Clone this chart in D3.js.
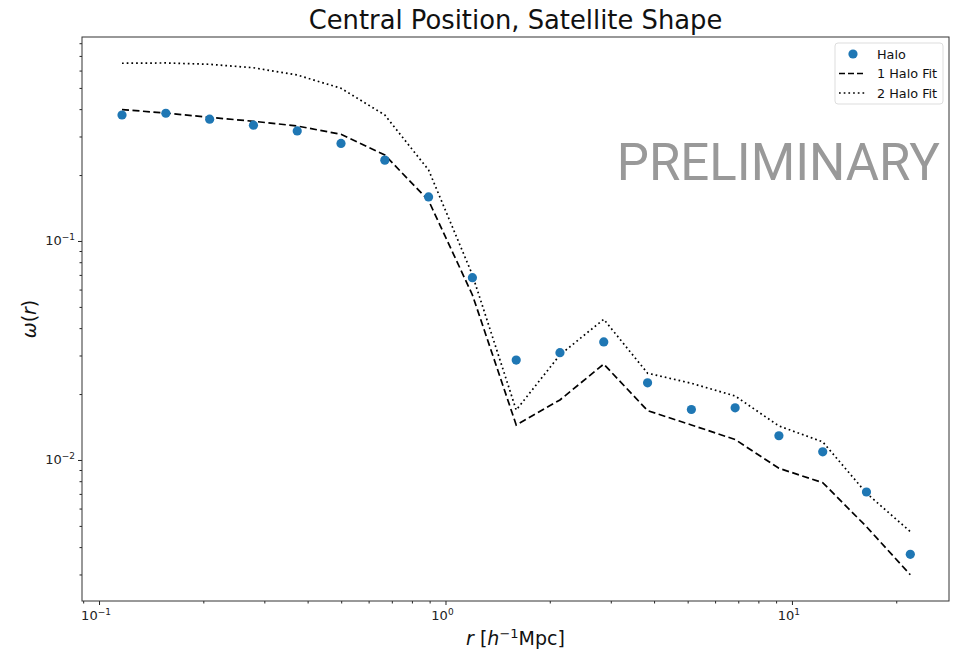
<!DOCTYPE html>
<html>
<head>
<meta charset="utf-8">
<script src="https://cdn.jsdelivr.net/npm/d3@7"></script>
<style>
  body { margin: 0; background: #fff; }
  svg { display: block; font-family: 'DejaVu Sans', sans-serif; }
</style>
</head>
<body>
<script>
/* global d3 */
// bin centres, r [h^-1 Mpc]
var radii = [0.1165, 0.1559, 0.2086, 0.2791, 0.3733, 0.4994, 0.6682, 0.8937, 1.196, 1.600,
  2.140, 2.863, 3.831, 5.125, 6.855, 9.170, 12.27, 16.41, 21.96]
var halo = [0.376, 0.383, 0.360, 0.338, 0.318, 0.279, 0.234, 0.159, 0.0680, 0.0286,
  0.0309, 0.0346, 0.0225, 0.0170, 0.0173, 0.0129, 0.0109, 0.00714, 0.00371]
var oneHaloFit = [0.398, 0.384, 0.367, 0.352, 0.335, 0.307, 0.247, 0.153, 0.0567, 0.01445,
  0.0188, 0.0274, 0.0168, 0.01445, 0.0124, 0.00916, 0.00788, 0.00496, 0.00299]
var twoHaloFit = [0.648, 0.650, 0.641, 0.618, 0.573, 0.498, 0.376, 0.211, 0.070, 0.0169,
  0.0302, 0.0439, 0.0249, 0.0224, 0.0196, 0.0143, 0.0121, 0.00705, 0.00471]
var xMajor = [0.1, 1, 10]
var xMajorExp = ['\u22121', '0', '1']
var yMajor = [0.1, 0.01]
var yMajorExp = ['\u22121', '\u22122']

var width = 953
var height = 652
var plotLeft = 82
var plotRight = 949
var plotTop = 37
var plotBottom = 601

var svg = d3.select('body').append('svg')
  .attr('width', width)
  .attr('height', height)

var x = d3.scaleLog().domain([0.0893, 28.4]).range([plotLeft, plotRight])
var y = d3.scaleLog().domain([0.854, 0.00227]).range([plotTop, plotBottom])

function minors (lo, hi) {
  var out = []
  for (var e = -4; e <= 3; e++) {
    for (var m = 2; m <= 9; m++) {
      var v = m * Math.pow(10, e)
      if (v >= lo && v <= hi) out.push(v)
    }
  }
  return out
}

// axes with ticks
var xAxisMajor = d3.axisBottom(x).tickValues(xMajor).tickSize(4).tickFormat('')
var xAxisMinor = d3.axisBottom(x).tickValues(minors(0.0893, 28.4)).tickSize(2.5).tickFormat('')
var yAxisMajor = d3.axisLeft(y).tickValues(yMajor).tickSize(4).tickFormat('')
var yAxisMinor = d3.axisLeft(y).tickValues(minors(0.00227, 0.854)).tickSize(2.5).tickFormat('')

function styleAxis (g) {
  g.select('.domain').remove()
  g.selectAll('line').attr('stroke', '#222').attr('stroke-width', 1)
}

svg.append('g').attr('transform', 'translate(0,' + plotBottom + ')').call(xAxisMajor).call(styleAxis)
svg.append('g').attr('transform', 'translate(0,' + plotBottom + ')').call(xAxisMinor).call(styleAxis)
svg.append('g').attr('transform', 'translate(' + plotLeft + ',0)').call(yAxisMajor).call(styleAxis)
svg.append('g').attr('transform', 'translate(' + plotLeft + ',0)').call(yAxisMinor).call(styleAxis)

// tick labels with superscripts
xMajor.forEach(function (v, i) {
  var t = svg.append('text')
    .attr('x', x(v) - 3)
    .attr('y', plotBottom + 19)
    .attr('text-anchor', 'middle')
    .style('font-size', '13px')
    .style('fill', '#222')
  t.append('tspan').text('10')
  t.append('tspan').attr('dy', -5.5).style('font-size', '9px').text(xMajorExp[i])
})
yMajor.forEach(function (v, i) {
  var t = svg.append('text')
    .attr('x', plotLeft - 7)
    .attr('y', y(v) + 4.5)
    .attr('text-anchor', 'end')
    .style('font-size', '13px')
    .style('fill', '#222')
  t.append('tspan').text('10')
  t.append('tspan').attr('dy', -5.5).style('font-size', '9px').text(yMajorExp[i])
})

// frame
svg.append('rect')
  .attr('x', plotLeft)
  .attr('y', plotTop)
  .attr('width', plotRight - plotLeft)
  .attr('height', plotBottom - plotTop)
  .attr('fill', 'none')
  .attr('stroke', '#333')
  .attr('stroke-width', 1)

// watermark
svg.append('text')
  .attr('x', 940)
  .attr('y', 180)
  .attr('text-anchor', 'end')
  .style('font-family', 'Roboto, sans-serif')
  .style('font-size', '51px')
  .style('fill', '#999')
  .text('PRELIMINARY')

var line = d3.line()
  .x(function (d) { return x(d[0]) })
  .y(function (d) { return y(d[1]) })

svg.append('path')
  .datum(d3.zip(radii, twoHaloFit))
  .attr('d', line)
  .attr('fill', 'none')
  .attr('stroke', '#000')
  .attr('stroke-width', 1.7)
  .attr('stroke-dasharray', '1.7,3')

svg.append('path')
  .datum(d3.zip(radii, oneHaloFit))
  .attr('d', line)
  .attr('fill', 'none')
  .attr('stroke', '#000')
  .attr('stroke-width', 1.7)
  .attr('stroke-dasharray', '7,3.5')

svg.selectAll('circle.halo')
  .data(d3.zip(radii, halo))
  .enter().append('circle')
  .attr('class', 'halo')
  .attr('cx', function (d) { return x(d[0]) })
  .attr('cy', function (d) { return y(d[1]) })
  .attr('r', 4.6)
  .attr('fill', '#1f77b4')

// title and labels
svg.append('text')
  .attr('x', (plotLeft + plotRight) / 2)
  .attr('y', 29)
  .attr('text-anchor', 'middle')
  .style('font-size', '25.8px')
  .style('fill', '#111')
  .text('Central Position, Satellite Shape')

var xl = svg.append('text')
  .attr('x', (plotLeft + plotRight) / 2)
  .attr('y', 645)
  .attr('text-anchor', 'middle')
  .style('font-size', '19px')
  .style('fill', '#111')
xl.append('tspan').style('font-style', 'italic').text('r')
xl.append('tspan').text(' [')
xl.append('tspan').style('font-style', 'italic').text('h')
xl.append('tspan').attr('dy', -7).style('font-size', '13px').text('\u22121')
xl.append('tspan').attr('dy', 7).text('Mpc]')

var yl = svg.append('text')
  .attr('transform', 'translate(36,' + ((plotTop + plotBottom) / 2) + ') rotate(-90)')
  .attr('text-anchor', 'middle')
  .style('font-size', '19px')
  .style('fill', '#111')
yl.append('tspan').style('font-style', 'italic').text('\u03c9')
yl.append('tspan').text('(')
yl.append('tspan').style('font-style', 'italic').text('r')
yl.append('tspan').text(')')

// legend
var legend = svg.append('g').attr('transform', 'translate(835,43)')
legend.append('rect')
  .attr('width', 108)
  .attr('height', 61)
  .attr('rx', 3)
  .attr('fill', '#fff')
  .attr('fill-opacity', 0.8)
  .attr('stroke', '#ddd')
var items = [
  { label: 'Halo', kind: 'dot' },
  { label: '1 Halo Fit', kind: 'dash' },
  { label: '2 Halo Fit', kind: 'dot-line' }
]
items.forEach(function (it, i) {
  var cy = 11 + i * 19.5
  if (it.kind === 'dot') {
    legend.append('circle').attr('cx', 18).attr('cy', cy).attr('r', 4.6).attr('fill', '#1f77b4')
  } else {
    legend.append('line')
      .attr('x1', 4).attr('x2', 31).attr('y1', cy).attr('y2', cy)
      .attr('stroke', '#000')
      .attr('stroke-width', 1.7)
      .attr('stroke-dasharray', it.kind === 'dash' ? '6,3' : '1.7,3')
  }
  legend.append('text')
    .attr('x', 42)
    .attr('y', cy + 4.5)
    .style('font-size', '12.8px')
    .style('fill', '#111')
    .text(it.label)
})
</script>
</body>
</html>
